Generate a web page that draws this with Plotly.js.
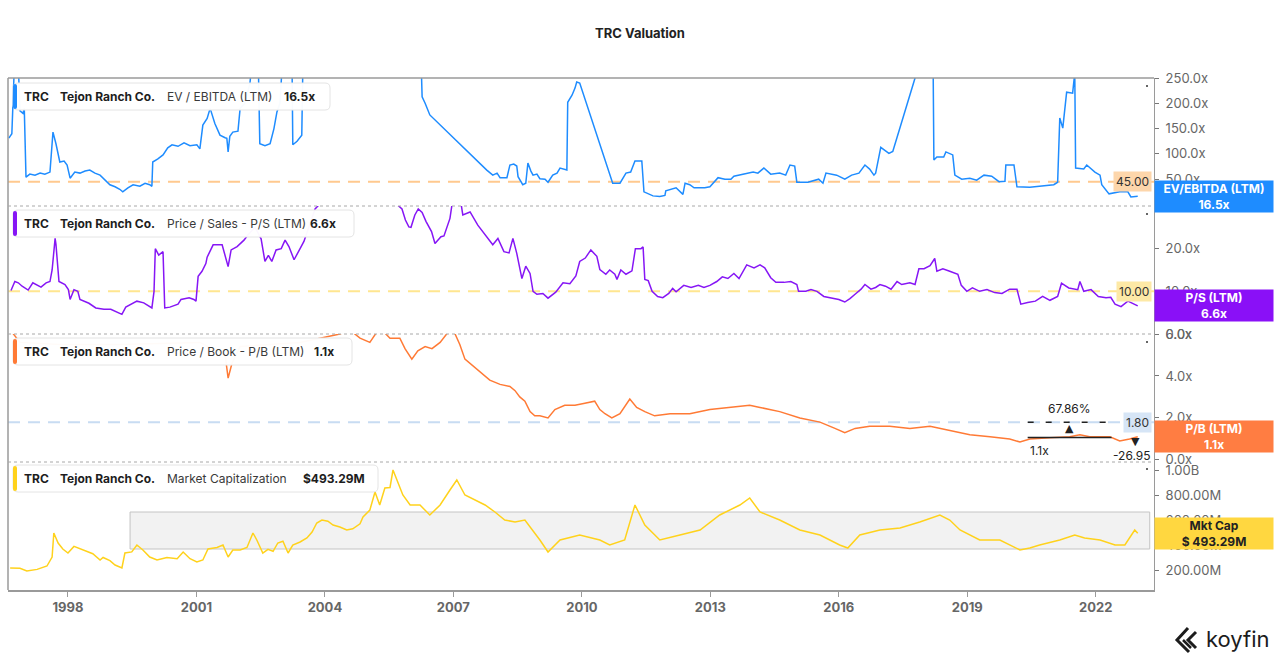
<!DOCTYPE html>
<html>
<head>
<meta charset="utf-8">
<script src="https://cdn.plot.ly/plotly-3.0.1.min.js"></script>
<style>
  html, body { margin:0; padding:0; background:#fff; }
  #chart { width:1280px; height:662px; }
</style>
</head>
<body>
<div id="chart"></div>
<script>
// EV / EBITDA (LTM)
const evYears = [1996.62,1996.69,1996.76,1996.83,1996.88,1996.95,1996.98,1997.02,1997.11,1997.23,1997.35,1997.46,1997.58,1997.65,1997.72,1997.81,1997.91,1997.98,1998.05,1998.16,1998.28,1998.40,1998.51,1998.63,1998.75,1998.86,1998.98,1999.10,1999.21,1999.28,1999.40,1999.52,1999.68,1999.80,1999.91,1999.96,1999.98,2000.10,2000.22,2000.33,2000.43,2000.57,2000.71,2000.85,2001.01,2001.08,2001.15,2001.25,2001.32,2001.43,2001.55,2001.67,2001.71,2001.74,2001.78,2001.85,2001.97,2002.02,2002.13,2002.25,2002.32,2002.44,2002.48,2002.60,2002.72,2002.81,2002.88,2002.95,2003.02,2003.18,2003.23,2003.25,2003.35,2003.46,2003.49,2004.58,2005.75,2006.24,2006.27,2006.34,2006.38,2006.45,2007.78,2007.85,2007.92,2008.02,2008.09,2008.25,2008.32,2008.41,2008.48,2008.51,2008.55,2008.62,2008.69,2008.74,2008.81,2008.86,2008.95,2009.02,2009.14,2009.21,2009.32,2009.42,2009.49,2009.58,2009.65,2009.67,2009.77,2009.84,2009.88,2009.95,2010.72,2010.89,2011.03,2011.14,2011.24,2011.40,2011.45,2011.66,2011.82,2011.94,2011.96,2012.20,2012.36,2012.41,2012.52,2012.62,2012.87,2012.99,2013.18,2013.34,2013.48,2013.55,2013.81,2014.00,2014.11,2014.25,2014.41,2014.62,2014.76,2014.86,2014.97,2015.02,2015.28,2015.53,2015.63,2015.70,2015.95,2016.14,2016.30,2016.47,2016.61,2016.72,2016.82,2016.86,2016.98,2017.17,2017.26,2017.78,2017.89,2018.20,2018.22,2018.29,2018.45,2018.50,2018.66,2018.71,2018.87,2019.06,2019.22,2019.39,2019.57,2019.74,2019.88,2019.90,2020.09,2020.16,2020.46,2020.69,2021.02,2021.11,2021.16,2021.23,2021.32,2021.46,2021.51,2021.53,2021.72,2021.79,2021.98,2022.10,2022.14,2022.31,2022.56,2022.75,2022.82,2022.98];
const evValues = [131,140,300,300,185,180,190,54,60,58,62,60,64,143,120,84,86,78,52,64,62,66,68,62,58,48,39,35,30,25,33,39,36,42,39,36,84,90,98,112,118,115,122,116,118,110,157,170,190,160,137,132,131,104,135,143,145,190,200,240,300,300,120,116,120,150,183,200,300,300,300,118,125,137,300,400,400,300,213,200,190,177,68,62,58,62,53,53,78,80,76,55,48,39,42,82,66,58,60,51,50,44,58,62,72,70,68,202,216,230,242,240,42,42,62,64,86,86,25,17,16,18,27,33,20,42,39,33,33,35,53,50,50,56,60,64,62,72,60,62,58,78,76,44,44,50,42,62,58,50,58,62,78,70,58,62,113,101,105,250,300,300,88,94,94,104,98,58,50,52,48,58,56,45,46,78,78,35,34,36,39,44,171,151,222,220,260,72,70,78,64,58,39,21,25,25,15,16.5];

// Price / Sales (LTM)
const psYears = [1996.67,1996.76,1996.84,1996.93,1997.07,1997.18,1997.37,1997.49,1997.58,1997.63,1997.70,1997.72,1997.79,1997.93,1998.01,1998.05,1998.14,1998.23,1998.28,1998.49,1998.65,1998.84,1999.00,1999.18,1999.26,1999.35,1999.61,1999.77,1999.96,2000.01,2000.04,2000.12,2000.22,2000.26,2000.38,2000.57,2000.64,2000.83,2000.94,2000.99,2001.04,2001.13,2001.22,2001.25,2001.39,2001.60,2001.74,2001.81,2001.95,2002.11,2002.20,2002.37,2002.51,2002.60,2002.68,2002.76,2002.86,2002.98,2003.07,2003.16,2003.28,2003.42,2003.51,2003.77,2004.12,2005.28,2005.80,2005.88,2005.96,2006.01,2006.10,2006.18,2006.27,2006.36,2006.49,2006.57,2006.71,2006.78,2006.92,2006.97,2007.18,2007.22,2007.39,2007.57,2007.74,2007.92,2008.04,2008.18,2008.30,2008.39,2008.48,2008.60,2008.69,2008.79,2008.86,2008.95,2009.09,2009.21,2009.39,2009.56,2009.72,2009.86,2009.95,2010.08,2010.21,2010.35,2010.42,2010.56,2010.65,2010.77,2010.82,2010.91,2011.03,2011.17,2011.25,2011.38,2011.43,2011.47,2011.55,2011.64,2011.77,2011.89,2012.03,2012.12,2012.20,2012.38,2012.55,2012.72,2012.85,2012.99,2013.15,2013.28,2013.41,2013.55,2013.67,2013.85,2014.02,2014.16,2014.27,2014.41,2014.53,2014.72,2014.88,2015.02,2015.06,2015.23,2015.35,2015.49,2015.65,2015.84,2016.00,2016.14,2016.26,2016.40,2016.52,2016.61,2016.75,2016.86,2016.96,2017.09,2017.22,2017.36,2017.47,2017.66,2017.78,2017.87,2017.99,2018.13,2018.24,2018.29,2018.43,2018.59,2018.78,2018.86,2018.99,2019.12,2019.29,2019.46,2019.64,2019.81,2019.99,2020.16,2020.25,2020.41,2020.59,2020.76,2020.93,2021.11,2021.20,2021.37,2021.58,2021.63,2021.72,2021.89,2022.06,2022.24,2022.35,2022.45,2022.59,2022.75,2022.89,2022.98];
const psValues = [10.2,12.3,12,11.2,10.3,12,11,12,12.3,15,22.4,21,12.3,11.6,10.4,8.1,10.4,10,8.1,7.2,6.1,5.8,5.8,4.9,4.6,6.3,7.7,7.3,6.1,10,20,18.5,19.3,6.1,6.3,7,8.1,8.5,8.1,7.7,13.5,14.7,16.5,18,20.9,20.9,15.8,19.7,20.5,22,23.2,25,22.3,17,18.4,17,19.7,20,22,20.5,17.4,20,21.7,29.3,33,34,29.3,26.7,25.1,25,27.9,29.3,28.5,26.4,24,21.2,22.8,23,27.1,30.5,30.5,27.9,28.6,25.5,23.3,20.9,22.4,19.3,19,22.4,18.9,13,15.9,14.2,10,9.3,9.5,8.4,9.8,12,11.8,13.6,17,17.8,19.7,18.2,15.1,14,15,14,12.8,15,14,14.8,20,20,20.4,12.8,12.5,10,8.8,8.5,9.5,10.7,9.9,11.4,10.9,11.4,10.9,11.4,12.3,13.4,13,14.2,13,16.2,15.5,16.2,15.5,13.2,12.1,12.1,12.3,11.6,10,10,10.4,10,8.8,8.5,8.1,7.5,8.3,9.5,10.5,11.6,10.5,10.9,11.6,11.2,10.5,12.3,11.6,12,11.6,15.3,15.3,16,17.7,14.7,15.3,14.7,14,11.4,10,10.8,10,10.4,9.7,9.5,10.5,10.5,7,7.4,7.7,8.8,7.9,8.8,11.9,10.8,10.4,12.3,10,10.4,8.8,8.5,8.6,7,6.4,7.7,7,6.6];

// Price / Book (LTM)
const pbYears = [1996.65,1996.88,1997.81,1999.21,2001.08,2001.67,2001.74,2001.83,2002.02,2003.42,2004.35,2004.58,2004.82,2005.05,2005.28,2005.52,2005.75,2005.87,2006.03,2006.17,2006.34,2006.50,2006.69,2006.92,2007.04,2007.15,2007.27,2007.39,2007.62,2007.85,2008.09,2008.32,2008.44,2008.55,2008.67,2008.79,2008.90,2009.02,2009.21,2009.37,2009.60,2009.84,2010.07,2010.30,2010.42,2010.54,2010.70,2010.89,2011.12,2011.28,2011.47,2011.70,2012.06,2012.52,2012.99,2013.46,2013.92,2014.16,2014.62,2015.09,2015.56,2015.91,2016.14,2016.38,2016.72,2017.19,2017.66,2018.13,2018.59,2019.06,2019.53,2019.99,2020.23,2020.46,2020.93,2021.39,2021.63,2021.86,2022.33,2022.56,2022.79,2022.98];
const pbValues = [6.2,5.6,5.5,5.5,5.6,5.0,3.9,4.6,5.4,5.6,6.0,6.2,5.8,5.6,6.3,5.8,5.8,5.3,4.8,5.2,5.4,5.3,5.6,6.2,6.0,5.5,4.8,4.6,4.2,3.8,3.6,3.5,3.3,3.0,2.8,2.3,2.1,2.1,2.0,2.4,2.6,2.6,2.7,2.8,2.4,2.2,2.0,2.2,2.9,2.5,2.3,2.1,2.2,2.2,2.4,2.5,2.6,2.5,2.3,2.0,1.8,1.5,1.3,1.5,1.6,1.6,1.5,1.6,1.4,1.2,1.1,1.0,0.85,1.0,1.05,1.1,1.2,1.1,1.1,0.9,1.0,1.1];

// Market capitalization, $M
const capYears = [1996.65,1996.88,1997.04,1997.28,1997.51,1997.63,1997.67,1997.77,1997.88,1998.00,1998.14,1998.28,1998.44,1998.58,1998.75,1998.82,1998.98,1999.10,1999.26,1999.33,1999.49,1999.61,1999.75,1999.91,2000.08,2000.31,2000.55,2000.69,2000.85,2001.01,2001.15,2001.27,2001.48,2001.62,2001.74,2001.85,2002.02,2002.18,2002.32,2002.41,2002.55,2002.67,2002.79,2002.90,2003.02,2003.14,2003.25,2003.42,2003.58,2003.70,2003.81,2003.93,2004.07,2004.19,2004.35,2004.51,2004.65,2004.82,2004.89,2005.05,2005.17,2005.28,2005.40,2005.52,2005.59,2005.71,2005.82,2005.99,2006.22,2006.45,2006.69,2006.92,2007.08,2007.27,2007.50,2007.74,2007.97,2008.20,2008.44,2008.67,2009.02,2009.21,2009.49,2009.95,2010.42,2010.65,2011.00,2011.24,2011.47,2011.82,2012.29,2012.76,2013.22,2013.69,2013.92,2014.16,2014.62,2015.09,2015.56,2016.02,2016.21,2016.49,2016.96,2017.43,2017.89,2018.36,2018.59,2018.83,2019.29,2019.76,2020.23,2020.46,2020.69,2021.16,2021.51,2021.74,2022.10,2022.45,2022.68,2022.91,2022.98];
const capValues = [216,214,192,205,232,304,496,416,368,336,389,370,344,330,280,300,275,240,216,336,345,400,360,304,280,300,290,344,290,264,280,368,380,400,304,360,360,380,496,440,336,365,350,416,430,336,400,424,456,504,576,600,590,560,544,520,530,570,624,680,824,720,856,860,1000,896,800,720,720,640,720,840,920,800,760,720,664,600,584,600,440,344,440,480,440,400,440,720,560,440,480,520,640,720,776,664,600,520,480,400,376,480,520,536,584,640,600,520,440,440,360,376,400,440,480,456,440,400,400,520,493.29];

// reference levels and the shaded market-cap band
const evRef = 45, psRef = 10, pbRef = 1.8;
const bandYears = [1999.45, 2023.26];
const bandCaps = [368, 664];
// P/B measuring tool
const measureYears = [2020.41, 2022.37];
const measureLevels = [1.8, 1.07];

const FONT = 'Inter, Roboto, "Noto Sans", sans-serif';
const W = 1280, H = 662, ML = 8, MR = 126, MT = 78, MB = 72;
const px = x => (x - ML) / (W - ML - MR);
const py = y => (H - MB - y) / (H - MT - MB);

function roundRect(x0, y0, x1, y1, r){
  const rx = r / (W - ML - MR), ry = r / (H - MT - MB);
  const a = px(x0), b = px(x1), c = py(y0), d = py(y1);
  return `M${a+rx},${c} L${b-rx},${c} Q${b},${c} ${b},${c-ry} L${b},${d+ry} Q${b},${d} ${b-rx},${d} L${a+rx},${d} Q${a},${d} ${a},${d+ry} L${a},${c-ry} Q${a},${c} ${a+rx},${c} Z`;
}

const colors = { ev:'#1e8cff', ps:'#8616f5', pb:'#ff7a35', cap:'#ffd21c' };

const traces = [
  {x:evYears, y:evValues, yaxis:'y', color:colors.ev},
  {x:psYears, y:psValues, yaxis:'y2', color:colors.ps},
  {x:pbYears, y:pbValues, yaxis:'y3', color:colors.pb},
  {x:capYears, y:capValues, yaxis:'y4', color:colors.cap}
].map(t => ({
  type:'scatter', mode:'lines', x:t.x, y:t.y, xaxis:'x', yaxis:t.yaxis,
  line:{color:t.color, width:1.5}, hoverinfo:'skip', showlegend:false
}));

function yax(domain, range, vals, text){
  return {
    domain, range, side:'right', anchor:'x', tickvals:vals, ticktext:text,
    showgrid:false, zeroline:false, showline:true, linecolor:'#9a9a9a', linewidth:1,
    ticks:'outside', ticklen:4, tickcolor:'#777', ticklabelstandoff:4,
    tickfont:{family:FONT, size:13, color:'#666'}
  };
}

const shapes = [];
// frame
shapes.push({type:'line', xref:'paper', yref:'paper', x0:0, x1:1, y0:1, y1:1, line:{color:'#9a9a9a', width:1.5}});
shapes.push({type:'line', xref:'paper', yref:'paper', x0:0, x1:0, y0:0, y1:1, line:{color:'#9a9a9a', width:1.5}});
[0.25, 0.5, 0.75].forEach(v => shapes.push({type:'line', xref:'paper', yref:'paper', x0:0, x1:1, y0:v, y1:v, line:{color:'#a8a8a8', width:1, dash:'dot'}}));
// tiny marks at the top right of each panel
[86, 214, 342, 469].forEach(y => shapes.push({type:'rect', xref:'paper', yref:'paper', x0:px(1146), x1:px(1148), y0:py(y + 1), y1:py(y - 1), fillcolor:'#666', line:{width:0}}));
// reference lines
[[evRef,'y','#ffc98f'],[psRef,'y2','#ffe690'],[pbRef,'y3','#c8dcf2']].forEach(([v,ref,c]) =>
  shapes.push({type:'line', xref:'paper', yref:ref, x0:0, x1:1, y0:v, y1:v, layer:'below', line:{color:c, width:2, dash:'12px,8px'}}));
// mkt cap band
shapes.push({type:'rect', xref:'x', yref:'y4', x0:bandYears[0], x1:bandYears[1], y0:bandCaps[0], y1:bandCaps[1], layer:'below', fillcolor:'#f2f2f2', line:{color:'#c4c4c4', width:1}});
// measure tool
shapes.push({type:'line', xref:'x', yref:'y3', x0:measureYears[0], x1:measureYears[1], y0:measureLevels[0], y1:measureLevels[0], line:{color:'#222', width:1.5, dash:'6px,12px'}});
shapes.push({type:'line', xref:'x', yref:'y3', x0:measureYears[0], x1:measureYears[1], y0:measureLevels[1], y1:measureLevels[1], line:{color:'#222', width:1.5}});

// legend boxes
const legends = [
  {top:83, right:330, color:colors.ev, metric:'EV / EBITDA (LTM)', value:'16.5x', vx:283},
  {top:210, right:354, color:colors.ps, metric:'Price / Sales - P/S (LTM)', value:'6.6x', vx:309},
  {top:338, right:352, color:colors.pb, metric:'Price / Book - P/B (LTM)', value:'1.1x', vx:313},
  {top:465, right:378, color:colors.cap, metric:'Market Capitalization', value:'$493.29M', vx:302}
];
const annotations = [];
legends.forEach(l => {
  shapes.push({type:'path', xref:'paper', yref:'paper', path:roundRect(13, l.top, l.right, l.top + 27, 5), fillcolor:'rgba(255,255,255,0.97)', line:{color:'#e4e4e4', width:1}, layer:'above'});
  shapes.push({type:'path', xref:'paper', yref:'paper', path:roundRect(13, l.top + 1, 17, l.top + 26, 2), fillcolor:l.color, line:{width:0}, layer:'above'});
  const yc = py(l.top + 13.5);
  [[23, '<b>TRC</b>', '#1d1d1d'], [59, '<b>Tejon Ranch Co.</b>', '#1d1d1d'], [166, l.metric, '#3a3a3a'], [l.vx, '<b>' + l.value + '</b>', '#1d1d1d']].forEach(([x, t, c]) =>
    annotations.push({xref:'paper', yref:'paper', x:px(x), y:yc, xanchor:'left', yanchor:'middle', xshift:-1, text:t, showarrow:false, font:{family:FONT, size:12, color:c}}));
});

// right value boxes
[
  ['y', evValues, 'EV/EBITDA (LTM)', '16.5x', colors.ev, '#fff'],
  ['y2', psValues, 'P/S (LTM)', '6.6x', '#8a10f7', '#fff'],
  ['y3', pbValues, 'P/B (LTM)', '1.1x', '#ff7d42', '#fff'],
  ['y4', capValues, 'Mkt Cap', '$ 493.29M', '#ffd740', '#222']
].forEach(([ref, vals, a, b, bg, fc]) => annotations.push({
  xref:'paper', yref:ref, x:1, y:vals[vals.length - 1], xanchor:'left', yanchor:'middle',
  text:'<b>' + a + '</b><br><b>' + b + '</b>', showarrow:false, width:118, height:31, borderpad:0,
  bgcolor:bg, align:'center', font:{family:FONT, size:12, color:fc}
}));

// reference labels
[[evRef,'y','45.00','#fdd6ab'],[psRef,'y2','10.00','#fde9a6'],[pbRef,'y3','1.80','#d6e5f6']].forEach(([v,ref,t,bg]) =>
  annotations.push({xref:'paper', yref:ref, x:1, xshift:-2, y:v, xanchor:'right', yanchor:'middle', text:t, showarrow:false, bgcolor:bg, borderpad:2, font:{family:FONT, size:12, color:'#333'}}));

// measure tool labels
annotations.push({xref:'x', yref:'y3', x:(measureYears[0] + measureYears[1]) / 2, y:measureLevels[0], yshift:14, text:'67.86%', showarrow:false, font:{family:FONT, size:12, color:'#222'}});
annotations.push({xref:'x', yref:'y3', x:(measureYears[0] + measureYears[1]) / 2, y:measureLevels[0], yshift:-6, text:'▲', showarrow:false, font:{family:'DejaVu Sans', size:11, color:'#222'}});
annotations.push({xref:'x', yref:'y3', x:measureYears[0], y:measureLevels[1], yshift:-13, xanchor:'left', text:'1.1x', showarrow:false, font:{family:FONT, size:12, color:'#222'}});
annotations.push({xref:'paper', yref:'y3', x:1, xshift:-1, y:measureLevels[1], yshift:-18, xanchor:'right', text:'-26.95', showarrow:false, font:{family:FONT, size:12, color:'#222'}});
annotations.push({xref:'paper', yref:'y3', x:px(1142), y:measureLevels[1], yshift:-4, text:'▼', showarrow:false, font:{family:'DejaVu Sans', size:11, color:'#222'}});

// koyfin logo
annotations.push({xref:'paper', yref:'paper', x:px(1204), y:py(639), xanchor:'left', yanchor:'middle', text:'koyfin', showarrow:false, font:{family:FONT, size:22, color:'#1c1c1c'}});
shapes.push({type:'path', xref:'paper', yref:'paper', path:`M${px(1188)},${py(628)} L${px(1177)},${py(640)} L${px(1189)},${py(652)}`, line:{color:'#1c1c1c', width:3}});
shapes.push({type:'path', xref:'paper', yref:'paper', path:`M${px(1196)},${py(632)} L${px(1188)},${py(640)} L${px(1196)},${py(648)}`, line:{color:'#1c1c1c', width:3}});
shapes.push({type:'path', xref:'paper', yref:'paper', path:`M${px(1183)},${py(640)} L${px(1191)},${py(648)}`, line:{color:'#1c1c1c', width:2.5}});

const layout = {
  width:W, height:H,
  margin:{l:ML, r:MR, t:MT, b:MB},
  paper_bgcolor:'#fff', plot_bgcolor:'#fff',
  showlegend:false,
  title:{text:'<b>TRC Valuation</b>', xref:'container', x:0.5, yref:'container', y:1 - 33 / H, yanchor:'middle', font:{family:FONT, size:13, color:'#222'}},
  xaxis:{
    anchor:'y4',
    range:[1996.6, 2023.36], tick0:1998, dtick:3, tickformat:'d',
    showgrid:false, zeroline:false, showline:true, linecolor:'#9a9a9a', linewidth:1.5,
    ticks:'outside', ticklen:5, tickcolor:'#9a9a9a',
    tickfont:{family:FONT, size:13, color:'#666', weight:'bold'}
  },
  yaxis: yax([0.75, 1], [-3, 250], [50,100,150,200,250], ['50.0x','100.0x','150.0x','200.0x','250.0x']),
  yaxis2: yax([0.5, 0.75], [0, 30], [0,10,20,30], ['0.0x','10.0x','20.0x','30.0x']),
  yaxis3: yax([0.25, 0.5], [-0.1, 6], [0,2,4,6], ['0.0x','2.0x','4.0x','6.0x']),
  yaxis4: yax([0, 0.25], [40, 1064], [200,400,600,800,1000], ['200.00M','400.00M','600.00M','800.00M','1.00B']),
  shapes, annotations
};

Plotly.newPlot('chart', traces, layout, {displayModeBar:false, staticPlot:true});
</script>
</body>
</html>
